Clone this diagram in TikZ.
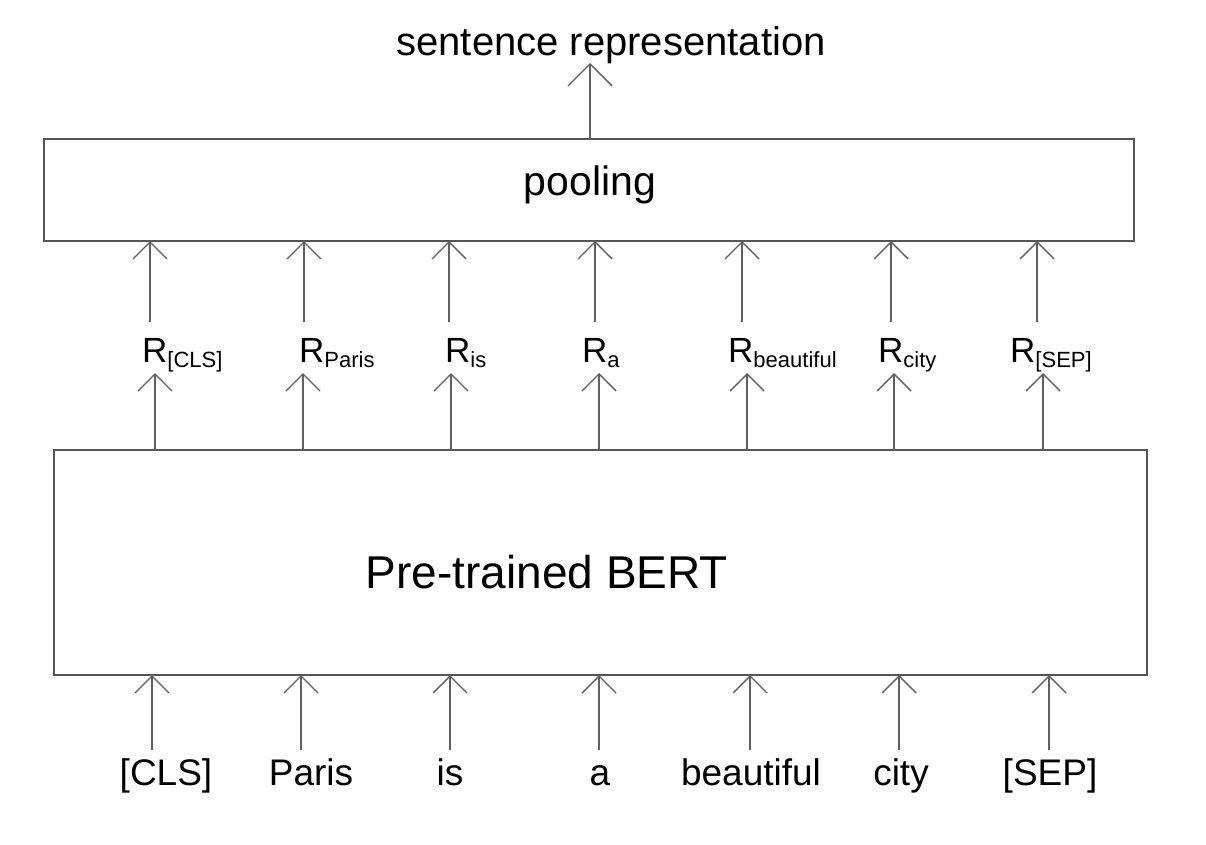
\documentclass[tikz,border=0pt]{standalone}
\usepackage{fontspec}
\setmainfont{Liberation Sans}
\usetikzlibrary{arrows.meta}
\definecolor{linegray}{HTML}{606060}
\definecolor{boxgray}{HTML}{555555}
\tikzset{
  boxstyle/.style={draw=boxgray, line width=1.5pt},
  arr/.style={draw=linegray, line width=1.4pt, -{Straight Barb[length=17pt,width=34pt,line width=1.4pt]}},
  bigarr/.style={draw=linegray, line width=1.4pt, -{Straight Barb[length=22pt,width=44pt,line width=1.4pt]}},
  word/.style={inner sep=0pt, anchor=base, font=\fontsize{37}{40}\selectfont},
  rlab/.style={inner sep=0pt, anchor=base west, font=\fontsize{35}{40}\selectfont},
}
\newcommand{\Rsub}[1]{R\raisebox{-5pt}{\fontsize{22}{23}\selectfont #1}}
\begin{document}
\begin{tikzpicture}[x=1pt,y=-1pt]
\useasboundingbox (0,0) rectangle (1206,844);
\fill[white] (0,0) rectangle (1206,844);
% boxes
\draw[boxstyle] (44,139) rectangle (1134,241);
\node[inner sep=0pt, font=\fontsize{41}{44}\selectfont] (pooltext) at (590,185) {pooling};
\draw[boxstyle] (54,450) rectangle (1147,675);
\node[inner sep=0pt, anchor=base, font=\fontsize{46}{50}\selectfont] (bert) at (547,588) {Pre-trained BERT};
% top output
\node[inner sep=0pt, anchor=base, font=\fontsize{40}{44}\selectfont] (sent) at (611,55) {sentence representation};
\coordinate (poolTop) at (590,139);
\coordinate (sentTip) at (590,63);
\draw[bigarr] (poolTop) -- (sentTip);
% R labels
\node[rlab] (r1) at (142,362) {\Rsub{[CLS]}};
\node[rlab] (r2) at (299,362) {\Rsub{Paris}};
\node[rlab] (r3) at (445,362) {\Rsub{is}};
\node[rlab] (r4) at (582,362) {\Rsub{a}};
\node[rlab] (r5) at (728,362) {\Rsub{beautiful}};
\node[rlab] (r6) at (878,362) {\Rsub{city}};
\node[rlab] (r7) at (1010,362) {\Rsub{[SEP]}};
% input words
\node[word] (w1) at (166,785) {[CLS]};
\node[word] (w2) at (311,785) {Paris};
\node[word] (w3) at (450,785) {is};
\node[word] (w4) at (600,785) {a};
\node[word] (w5) at (751,785) {beautiful};
\node[word] (w6) at (901,785) {city};
\node[word] (w7) at (1050,785) {[SEP]};
% arrows R -> pooling
\foreach \i/\x in {1/150,2/304,3/449,4/595,5/742,6/891,7/1037}{
  \coordinate (ua\i) at (\x,322);
  \coordinate (ut\i) at (\x,241);
  \draw[arr] (ua\i) -- (ut\i);
}
% arrows BERT -> R
\foreach \i/\x in {1/155,2/303,3/451,4/599,5/747,6/894,7/1043}{
  \coordinate (la\i) at (\x,450);
  \coordinate (lt\i) at (\x,373);
  \draw[arr] (la\i) -- (lt\i);
}
% arrows word -> BERT
\foreach \i/\x in {1/152,2/301,3/450,4/599,5/750,6/899,7/1049}{
  \coordinate (ia\i) at (\x,750);
  \coordinate (it\i) at (\x,675);
  \draw[arr] (ia\i) -- (it\i);
}
\end{tikzpicture}
\end{document}
